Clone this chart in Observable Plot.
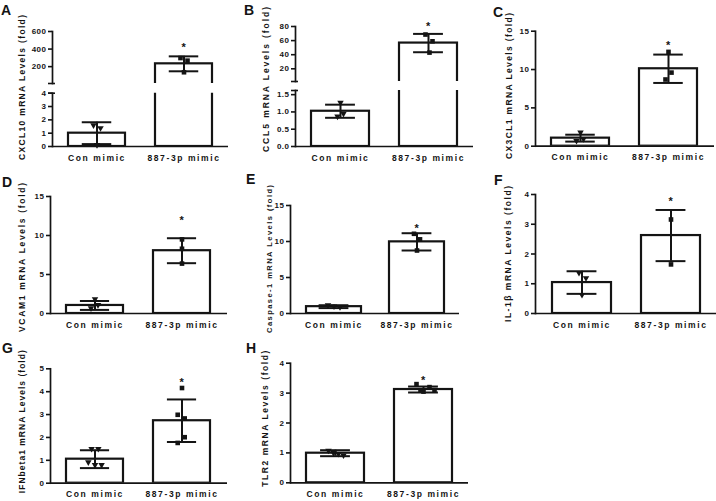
<!DOCTYPE html>
<html><head><meta charset="utf-8">
<script src="https://cdn.jsdelivr.net/npm/d3@7"></script>
<script src="https://cdn.jsdelivr.net/npm/@observablehq/plot@0.6"></script>
<style>
html,body{margin:0;padding:0;background:#fff;}
#fig{position:relative;width:716px;height:501px;overflow:hidden;background:#fff;}
#fig svg{position:absolute;left:0;top:0;}
</style></head><body><div id="fig"></div>
<script>
// ---------- data ----------
const categories = ["Con mimic", "887-3p mimic"];
const panelLetters = ["A", "B", "C", "D", "E", "F", "G", "H"];
const genes = ["CXCL10", "CCL5", "CX3CL1", "VCAM1", "Caspase-1", "IL-1β", "IFNbeta1", "TLR2"];
const barMeans = [[1.0, 232], [1.02, 56.5], [1.05, 10.1], [1.03, 8.05], [0.95, 9.95], [1.04, 2.62], [1.05, 2.73], [0.99, 3.12]];
const barSD = [[0.82, 85], [0.19, 13], [0.45, 1.85], [0.57, 1.6], [0.2, 1.2], [0.38, 0.86], [0.39, 0.93], [0.1, 0.1]];
const conPoints = [[1.6, 1.38, 0.12], [1.27, 0.95, 0.87], [1.8, 0.95, 0.7], [1.85, 1.1, 0.68], [1.15, 1.0, 0.9], [1.37, 1.19, 0.63], [1.5, 1.5, 0.92, 0.8, 0.8], [1.08, 1.0, 0.97, 0.92]];
const mimicPoints = [[298, 268, 136], [68.6, 59, 43], [12.3, 9.6, 8.7], [9.5, 8.3, 6.4], [11.07, 10.3, 8.75], [3.16, 1.65], [4.16, 2.99, 2.83, 2.01, 1.76], [3.3, 3.05, 3.2, 3.1, 3.08]];
const sigMarks = [448, 84, 13.5, 12.3, 12.2, 3.86, 4.52, 3.53];
const yTickValues = [
  [[200, 400, 600], [0, 1, 2, 3, 4]],
  [[20, 40, 60, 80], [0, 0.5, 1, 1.5]],
  [[0, 5, 10, 15]], [[0, 5, 10, 15]], [[0, 5, 10, 15]],
  [[0, 1, 2, 3, 4]], [[0, 1, 2, 3, 4, 5]], [[0, 1, 2, 3, 4]]
];

// ---------- layout (pixels / styling) ----------
const W0 = 716, H0 = 501;
const ink = "#141414";
const FONT = "'Liberation Sans', Arial, Helvetica, sans-serif";
const PI = 0.34, PO = 0.18;
const layout = [
  {left: 52, right: 228, segs: [{dom: [8, 600], top: 31, bottom: 83, breakEnds: [8]}, {dom: [0, 4], top: 92.7, bottom: 146, breakEnds: [4]}],
   jitter: [[-3.5, 3.5, 0], [-3.5, 3.5, 0]], letter: [1, 15], label: [22, 87.5, 145, 8.5]},
  {left: 295, right: 473, segs: [{dom: [2, 80], top: 26, bottom: 81, breakEnds: [2]}, {dom: [0, 1.62], top: 90, bottom: 146, breakEnds: [1.62], fmt: ".1f"}],
   jitter: [[0, 3, -3], [-3, 4, 1]], letter: [244, 15], label: [266, 79.5, 145, 8.5]},
  {left: 535, right: 714, segs: [{dom: [0, 15], top: 30.7, bottom: 145.7}],
   jitter: [[0, 3, -4], [0, 3, -3]], letter: [493, 17], label: [509, 86, 146, 8.5]},
  {left: 50, right: 227, segs: [{dom: [0, 15], top: 196, bottom: 313}],
   jitter: [[0, 3, -4], [0, 0, 0]], letter: [2, 187], label: [22, 257.5, 149, 8.5]},
  {left: 290, right: 459, segs: [{dom: [0, 15], top: 205, bottom: 313}],
   jitter: [[-6, 0, 6], [-3, 3, 0]], letter: [246, 184], label: [269, 259, 148, 7.5]},
  {left: 535, right: 716, segs: [{dom: [0, 4], top: 194, bottom: 313}],
   jitter: [[-3, 4, 0], [0, 0]], letter: [494, 185], label: [508, 254, 136, 8.5]},
  {left: 50, right: 227, segs: [{dom: [0, 5], top: 368.3, bottom: 482.7}],
   jitter: [[-3.4, 3.3, -6.7, 0, 6.6], [0, -4.3, 2.7, 2.7, -4.3]], letter: [2, 353], label: [22, 421.7, 143, 8.5]},
  {left: 290, right: 468, segs: [{dom: [0, 4], top: 362.7, bottom: 482.3}],
   jitter: [[-7, -2, 3, 8], [-7, 0, 6, 11, -3]], letter: [246, 353], label: [265, 418.7, 136, 8.5]}
];

const fig = document.getElementById("fig");

function renderSegment(p, s) {
  const L = layout[p], seg = L.segs[s];
  const [d0, d1] = seg.dom;
  const isBase = s === L.segs.length - 1;
  const isTop = s === 0;
  const W = L.right - L.left;
  const step = W / (2 - PI + 2 * PO);
  const bw = step * (1 - PI);
  const capInset = Math.max(0, (bw - 30) / 2);
  const rows = categories.map((c, j) => ({
    cat: c, mean: barMeans[p][j],
    lo: barMeans[p][j] - barSD[p][j], hi: barMeans[p][j] + barSD[p][j]
  }));
  const bars = rows.filter(r => r.mean > d0);
  const errs = rows.filter(r => r.lo >= d0 && r.hi <= d1);
  const marks = [];
  marks.push(Plot.barY(bars, {x: "cat", y1: d0, y2: "mean", fill: "white", stroke: ink, strokeWidth: 2.2,
    clip: true, insetBottom: isBase ? 0 : -6}));
  marks.push(Plot.ruleX(errs, {x: "cat", y1: "lo", y2: "hi", stroke: ink, strokeWidth: 2}));
  marks.push(Plot.tickY(errs, {x: "cat", y: "hi", stroke: ink, strokeWidth: 2, insetLeft: capInset, insetRight: capInset}));
  marks.push(Plot.tickY(errs, {x: "cat", y: "lo", stroke: ink, strokeWidth: 2, insetLeft: capInset, insetRight: capInset}));
  [conPoints[p], mimicPoints[p]].forEach((arr, j) => arr.forEach((v, k) => {
    if (v < d0 || v > d1) return;
    marks.push(Plot.dot([{cat: categories[j], v}], {
      x: "cat", y: "v", dx: L.jitter[j][k],
      symbol: j === 0 ? "triangle" : "square", r: j === 0 ? 2.4 : 2.6,
      fill: ink, stroke: "none", rotate: j === 0 ? 180 : 0
    }));
  }));
  if (isTop) marks.push(Plot.text([{cat: categories[1], v: sigMarks[p]}], {
    x: "cat", y: "v", text: () => "*", fontSize: 11, fill: ink, dy: 3}));
  marks.push(Plot.frame({anchor: "left", stroke: ink, strokeWidth: 1.7}));
  if (isBase) marks.push(Plot.ruleY([d0], {stroke: ink, strokeWidth: 1.7}));
  marks.push(Plot.axisY(yTickValues[p][s], {
    tickSize: 4, tickPadding: 2, label: null,
    tickFormat: seg.fmt ? d3.format(seg.fmt) : d => String(d),
    stroke: ink, fill: ink, strokeWidth: 1.6
  }));
  if (seg.breakEnds) {
    marks.push(Plot.axisY(seg.breakEnds, {tickSize: 4, tickFormat: () => "", label: null, stroke: ink, strokeWidth: 1.6}));
    marks.push(Plot.tickY(seg.breakEnds, {y: d => d, insetRight: W - 3, stroke: ink, strokeWidth: 1.6}));
  }
  if (isBase) marks.push(Plot.axisX({tickSize: 0, tickPadding: 8, fontSize: 8.5, fill: ink, label: null}));

  const svg = Plot.plot({
    width: W0, height: H0,
    marginLeft: L.left, marginRight: W0 - L.right, marginTop: seg.top, marginBottom: H0 - seg.bottom,
    x: {domain: categories, paddingInner: PI, paddingOuter: PO, label: null, axis: isBase ? undefined : null},
    y: {domain: seg.dom, label: null},
    style: `background: transparent; font-family: ${FONT}; font-size: 8px; font-weight: bold; letter-spacing: 0.5px; overflow: visible; color: ${ink};`,
    marks
  });
  d3.select(svg).selectAll('g[aria-label="x-axis tick label"] text').style("letter-spacing", "1.6px");
  svg.style.position = "absolute";
  svg.style.left = "0px";
  svg.style.top = "0px";
  fig.appendChild(svg);
}

layout.forEach((L, p) => L.segs.forEach((seg, s) => renderSegment(p, s)));

// overlay: panel letters and y-axis titles
const over = d3.select(fig).append("svg")
  .attr("width", W0).attr("height", H0)
  .style("position", "absolute").style("left", "0px").style("top", "0px")
  .attr("font-family", FONT).attr("font-weight", "bold").attr("fill", ink);
layout.forEach((L, p) => {
  over.append("text").attr("x", L.letter[0]).attr("y", L.letter[1]).attr("font-size", 14).text(panelLetters[p]);
  const [lx, ly, len, fs] = L.label;
  over.append("text")
    .attr("transform", `translate(${lx},${ly}) rotate(-90)`)
    .attr("text-anchor", "middle").attr("dominant-baseline", "central")
    .attr("font-size", fs)
    .attr("textLength", len).attr("lengthAdjust", "spacing")
    .text(`${genes[p]} mRNA Levels (fold)`);
});
</script>
</body></html>
